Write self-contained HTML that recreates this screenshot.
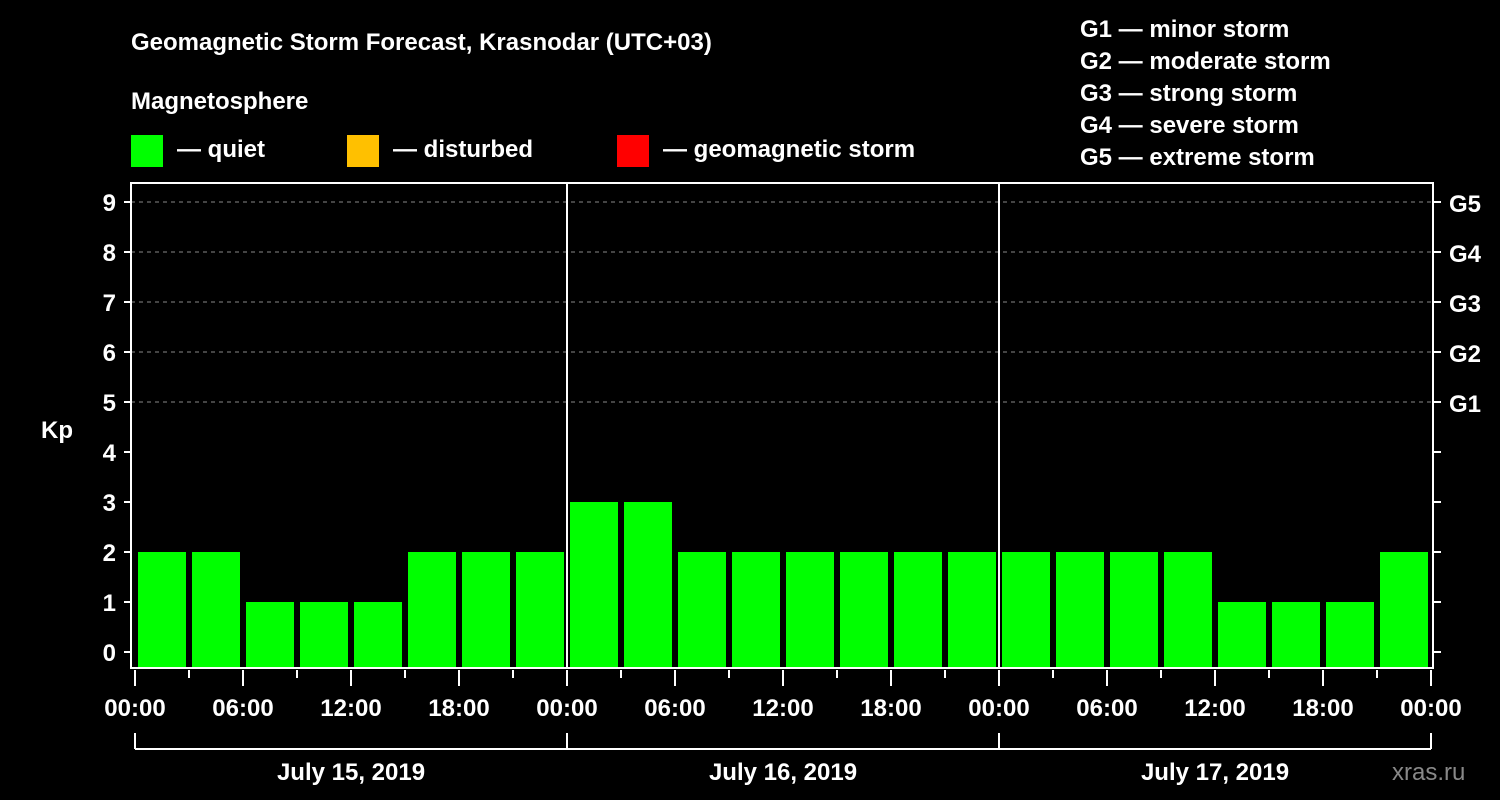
<!DOCTYPE html>
<html><head><meta charset="utf-8"><style>
html,body{margin:0;padding:0;background:#000;}
svg{display:block;font-family:"Liberation Sans",Arial,sans-serif;font-weight:bold;}
</style></head><body>
<svg id="c" width="1500" height="800" viewBox="0 0 1500 800">
<rect width="1500" height="800" fill="#000"/>
<text x="131" y="50" fill="#fff" font-size="24">Geomagnetic Storm Forecast, Krasnodar (UTC+03)</text>
<text x="131" y="109" fill="#fff" font-size="24">Magnetosphere</text>
<g><rect x="131" y="135" width="32" height="32" fill="#00ff00"/><text x="177" y="157" fill="#fff" font-size="24">— quiet</text></g>
<g><rect x="347" y="135" width="32" height="32" fill="#ffc000"/><text x="393" y="157" fill="#fff" font-size="24">— disturbed</text></g>
<g><rect x="617" y="135" width="32" height="32" fill="#ff0000"/><text x="663" y="157" fill="#fff" font-size="24">— geomagnetic storm</text></g>
<g fill="#fff" font-size="24">
<text x="1080" y="37">G1 — minor storm</text>
<text x="1080" y="69">G2 — moderate storm</text>
<text x="1080" y="101">G3 — strong storm</text>
<text x="1080" y="133">G4 — severe storm</text>
<text x="1080" y="165">G5 — extreme storm</text>
</g>
<text x="41" y="438" fill="#fff" font-size="24">Kp</text>
<g id="grid"></g><g id="bars"></g><g id="axes"></g>
<text x="1392" y="780" fill="#888" font-size="24" font-weight="normal">xras.ru</text>
</svg>
<script>
const kpValues=[2,2,1,1,1,2,2,2, 3,3,2,2,2,2,2,2, 2,2,2,2,1,1,1,2];
const yTicks=[0,1,2,3,4,5,6,7,8,9];
const gLabels=["G1","G2","G3","G4","G5"];
const gLevels=[5,6,7,8,9];
const xTickLabels=["00:00","06:00","12:00","18:00","00:00","06:00","12:00","18:00","00:00","06:00","12:00","18:00","00:00"];
const dayLabels=["July 15, 2019","July 16, 2019","July 17, 2019"];
const NS="http://www.w3.org/2000/svg";
const L=131,R=1433,T=183,B=668,X0=135,SLOT=54;
const y=v=>652-v*50;
const x=i=>X0+i*SLOT;
function mk(tag,attrs,parent){const e=document.createElementNS(NS,tag);for(const k in attrs)e.setAttribute(k,attrs[k]);parent.appendChild(e);return e;}
const grid=document.getElementById('grid'),bars=document.getElementById('bars'),axes=document.getElementById('axes');
gLevels.forEach((g,i)=>{
 const ln=mk('line',{x1:L,x2:R,y1:y(g),y2:y(g),stroke:'#888','stroke-dasharray':'4,4','stroke-width':1},grid);
 
 
 const t=mk('text',{x:1449,y:y(g)+10,fill:'#fff','font-size':24},axes);t.textContent=gLabels[i];
 
 
});
yTicks.forEach(v=>{
 mk('line',{x1:124,x2:L,y1:y(v),y2:y(v),stroke:'#fff','stroke-width':2},axes);
 mk('line',{x1:R,x2:R+8,y1:y(v),y2:y(v),stroke:'#fff','stroke-width':2},axes);
 const t=mk('text',{x:116,y:y(v)+9,fill:'#fff','font-size':24,'text-anchor':'end'},axes);t.textContent=v;
 
 
});
kpValues.forEach((v,i)=>{
 const r=mk('rect',{x:x(i)+3,y:y(v),width:SLOT-6,height:B-y(v),fill:v>=5?'#ff0000':(v>=4?'#ffc000':'#00ff00')},bars);
 
 
});
mk('rect',{x:L,y:T,width:R-L,height:B-T,fill:'none',stroke:'#fff','stroke-width':2},axes);
for(let d=1;d<dayLabels.length;d++)mk('line',{x1:x(d*8),x2:x(d*8),y1:T,y2:B,stroke:'#fff','stroke-width':2},axes);
for(let i=0;i<=kpValues.length;i++){
 mk('line',{x1:x(i),x2:x(i),y1:670,y2:i%2?678:686,stroke:'#fff','stroke-width':2},axes);
}
xTickLabels.forEach((s,i)=>{
 const t=mk('text',{x:x(i*2),y:716,fill:'#fff','font-size':24,'text-anchor':'middle'},axes);t.textContent=s;
 
 
});
mk('line',{x1:x(0),x2:x(24),y1:749,y2:749,stroke:'#fff','stroke-width':2},axes);
for(let d=0;d<=dayLabels.length;d++)mk('line',{x1:x(d*8),x2:x(d*8),y1:733,y2:749,stroke:'#fff','stroke-width':2},axes);
dayLabels.forEach((s,d)=>{
 const t=mk('text',{x:(x(d*8)+x(d*8+8))/2,y:780,fill:'#fff','font-size':24,'text-anchor':'middle'},axes);t.textContent=s;
 
 
});
</script>
</body></html>
